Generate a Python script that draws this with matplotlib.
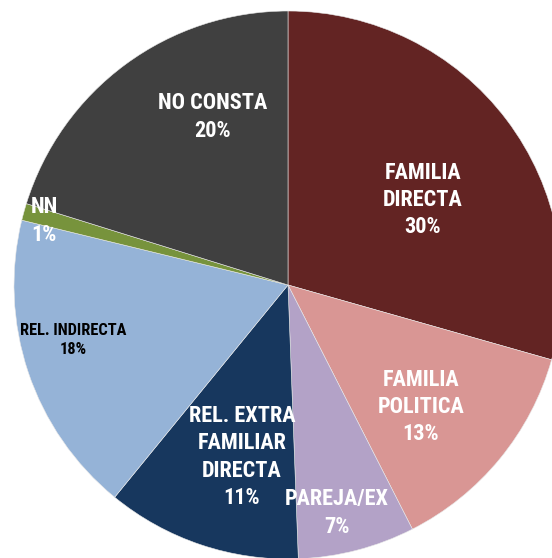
import matplotlib
matplotlib.use('Agg')
import matplotlib.pyplot as plt
from matplotlib import font_manager

# data
categories = ['FAMILIA\nDIRECTA', 'FAMILIA\nPOLITICA', 'PAREJA/EX',
              'REL. EXTRA\nFAMILIAR\nDIRECTA', 'REL. INDIRECTA', 'NN', 'NO CONSTA']
values = [29.4, 13.1, 6.9, 11.5, 17.9, 1.0, 20.2]
pct_labels = ['30%', '13%', '7%', '11%', '18%', '1%', '20%']

colors = ['#632423', '#D99694', '#B3A2C7', '#17375E', '#95B3D7', '#77933C', '#404040']
text_colors = ['white', 'white', 'white', 'white', 'black', 'white', 'white']
font_sizes = [16, 16, 16, 16, 11.8, 16, 16]
# label centres, pixel coords from top-left
label_pos = [(423, 200), (421, 407), (337, 513), (242, 457), (73, 340), (44, 221), (213, 117)]

# pick a narrow bold face if there is one
names = set(f.name for f in font_manager.fontManager.ttflist)
stretch = 'normal'
if 'Liberation Sans Narrow' in names:
    fam = 'Liberation Sans Narrow'
elif 'Roboto Condensed' in names:
    fam = 'Roboto Condensed'
else:
    fam = 'Roboto' if 'Roboto' in names else 'DejaVu Sans'
    stretch = 'condensed'

W, H = 552, 558
fig = plt.figure(figsize=(W / 100, H / 100), dpi=100)
ax = fig.add_axes([0, 0, 1, 1])

ax.pie(values, colors=colors, startangle=90, counterclock=False,
       center=(288, H - 285), radius=274,
       wedgeprops={'edgecolor': '#e8e8e8', 'linewidth': 0.4})

for i in range(len(categories)):
    x, y = label_pos[i]
    ax.text(x, H - y, categories[i] + '\n' + pct_labels[i],
            ha='center', va='center', color=text_colors[i],
            fontsize=font_sizes[i], fontweight='bold', linespacing=1.3,
            fontstretch=stretch, family=[fam, 'DejaVu Sans'])

ax.set_xlim(0, W)
ax.set_ylim(0, H)
ax.set_aspect('equal')
ax.axis('off')

fig.savefig('out.png', dpi=100)
